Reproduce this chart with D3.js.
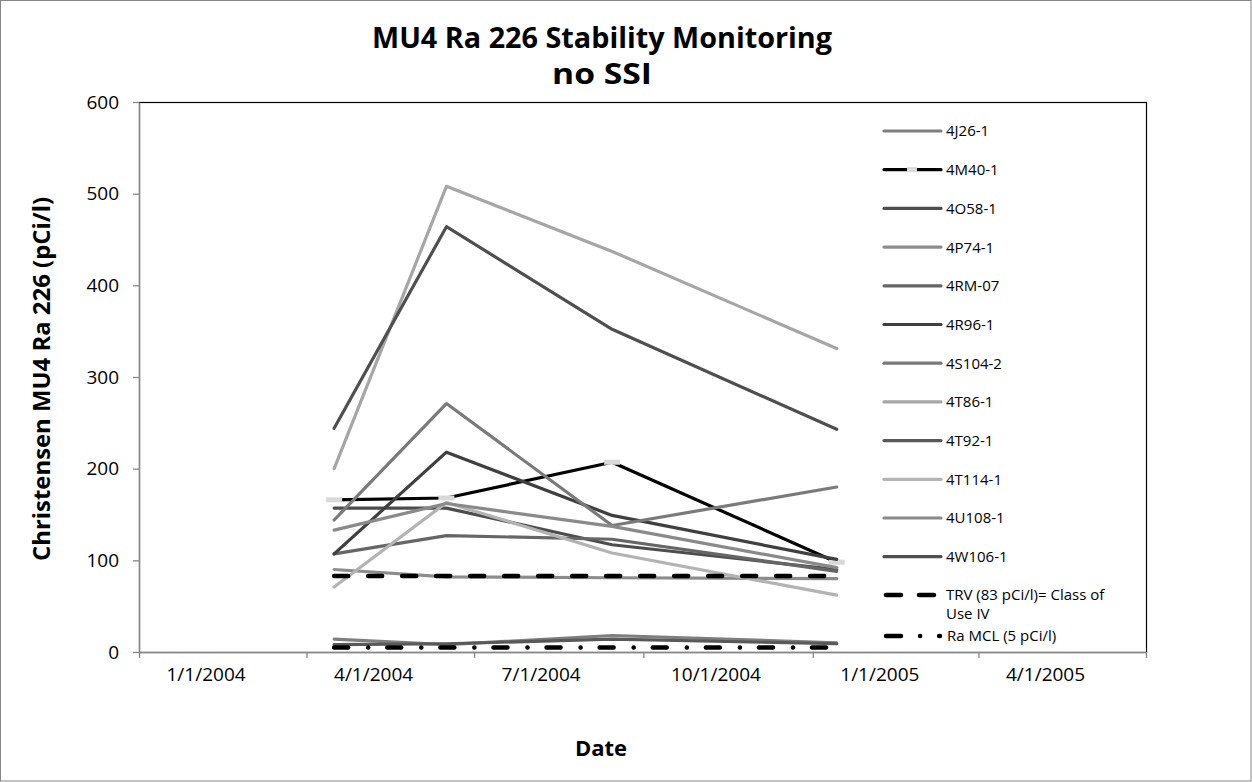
<!DOCTYPE html>
<html>
<head>
<meta charset="utf-8">
<script src="https://cdn.jsdelivr.net/npm/d3@7"></script>
<style>
  body { margin: 0; background: #fff; }
  text { font-family: "Open Sans", sans-serif; fill: #000; }
</style>
</head>
<body>
<div id="chart"></div>
<script>
// sampling dates
const dates = ["2004-04-16", "2004-06-16", "2004-09-14", "2005-01-14"];

// well names, in legend order
const wells = ["4J26-1", "4M40-1", "4O58-1", "4P74-1", "4RM-07", "4R96-1",
  "4S104-2", "4T86-1", "4T92-1", "4T114-1", "4U108-1", "4W106-1"];

// Ra 226 (pCi/l) per well, one value per date
const v4J26 = [14, 8, 18, 10];
const v4M40 = [166, 168, 207, 98];
const v4O58 = [157, 157, 117, 90];
const v4P74 = [90, 82, 81, 80];
const v4RM07 = [107, 127, 123, 88];
const v4R96 = [107, 218, 149, 101];
const v4S104 = [144, 271, 138, 180];
const v4T86 = [200, 508, 437, 331];
const v4T92 = [8, 9, 14, 9];
const v4T114 = [71, 163, 108, 62];
const v4U108 = [133, 162, 137, 92];
const v4W106 = [244, 464, 352, 243];

// reference levels
const trvValue = [83, 83, 83, 83];
const mclValue = [5, 5, 5, 5];

const yTicks = [0, 100, 200, 300, 400, 500, 600];

const colors = ["#7f7f7f", "#000000", "#4d4d4d", "#8c8c8c", "#666666", "#3f3f3f",
  "#7a7a7a", "#a6a6a6", "#595959", "#b3b3b3", "#8a8a8a", "#4f4f4f"];

const values = [v4J26, v4M40, v4O58, v4P74, v4RM07, v4R96,
  v4S104, v4T86, v4T92, v4T114, v4U108, v4W106];

const parse = d3.timeParse("%Y-%m-%d");
const series = wells.map((name, i) => ({
  name: name,
  color: colors[i],
  points: dates.map((d, j) => ({ date: parse(d), value: values[i][j] }))
}));

const W = 1252, H = 782;
const plot = { left: 139, right: 1146, top: 102, bottom: 652 };

const svg = d3.select("#chart").append("svg")
  .attr("width", W).attr("height", H);

// outer chart frame
svg.append("rect")
  .attr("x", 0.5).attr("y", 0.5)
  .attr("width", W - 1.5).attr("height", H - 1.5)
  .attr("fill", "#fff").attr("stroke", "#868686");

const x = d3.scaleTime()
  .domain([parse("2004-01-01"), parse("2005-07-01")])
  .range([plot.left, plot.right]);

const y = d3.scaleLinear()
  .domain([0, 600])
  .range([plot.bottom, plot.top]);

// plot area border
svg.append("rect")
  .attr("x", plot.left + 0.5).attr("y", plot.top + 0.5)
  .attr("width", plot.right - plot.left).attr("height", plot.bottom - plot.top)
  .attr("fill", "none").attr("stroke", "#000").attr("stroke-width", 1.2);

// axes
const fmt = d3.timeFormat("%-m/%-d/%Y");
const xAxis = svg.append("g")
  .attr("transform", `translate(0,${plot.bottom})`)
  .call(d3.axisBottom(x)
    .ticks(d3.timeMonth.every(3))
    .tickSize(6)
    .tickSizeOuter(0)
    .tickFormat(d => d < parse("2005-06-01") ? fmt(d) : ""));
xAxis.selectAll("text")
  .attr("text-anchor", "start")
  .attr("x", 27)
  .attr("y", 16)
  .attr("font-size", 19)
  .attr("font-family", "Open Sans");

const yAxis = svg.append("g")
  .attr("transform", `translate(${plot.left},0)`)
  .call(d3.axisLeft(y).tickValues(yTicks).tickSize(6).tickSizeOuter(0).tickPadding(14));
yAxis.selectAll("text")
  .attr("font-size", 19)
  .attr("font-family", "Open Sans");

svg.selectAll(".domain, .tick line")
  .attr("stroke", "#868686")
  .attr("stroke-width", 1.3);

// lines
const line = d3.line()
  .x(d => x(d.date))
  .y(d => y(d.value));

const g = svg.append("g");

series.forEach(s => {
  g.append("path")
    .datum(s.points)
    .attr("d", line)
    .attr("fill", "none")
    .attr("stroke", s.color)
    .attr("stroke-width", 3.2)
    .attr("stroke-linejoin", "round")
    .attr("stroke-linecap", "round");
  if (s.name === "4M40-1") {
    g.selectAll(".m40")
      .data(s.points)
      .enter().append("rect")
      .attr("x", d => x(d.date) - 8)
      .attr("y", d => y(d.value) - 2.5)
      .attr("width", 16).attr("height", 5)
      .attr("fill", "#d9d9d9");
  }
});

const trvDash = "14,20";
const mclDash = "14,20,0.1,19";

g.append("path")
  .datum(dates.map((d, j) => ({ date: parse(d), value: trvValue[j] })))
  .attr("d", line)
  .attr("fill", "none")
  .attr("stroke", "#000")
  .attr("stroke-width", 4.5)
  .attr("stroke-linecap", "round")
  .attr("stroke-dasharray", trvDash);

g.append("path")
  .datum(dates.map((d, j) => ({ date: parse(d), value: mclValue[j] })))
  .attr("d", line)
  .attr("fill", "none")
  .attr("stroke", "#000")
  .attr("stroke-width", 4.5)
  .attr("stroke-linecap", "round")
  .attr("stroke-dasharray", mclDash);

// legend
const legend = svg.append("g");
const lx0 = 884, lx1 = 941, tx = 946;
const fs = 15;

series.forEach((s, i) => {
  const ly = 131 + i * 38.7;
  legend.append("line")
    .attr("x1", lx0).attr("x2", lx1)
    .attr("y1", ly).attr("y2", ly)
    .attr("stroke", s.color)
    .attr("stroke-width", 3.2)
    .attr("stroke-linecap", "round");
  if (s.name === "4M40-1") {
    legend.append("rect")
      .attr("x", 907).attr("y", ly - 2.5)
      .attr("width", 10).attr("height", 5)
      .attr("fill", "#d9d9d9");
  }
  legend.append("text")
    .attr("x", tx).attr("y", ly)
    .attr("dy", "0.36em")
    .attr("font-size", fs)
    .text(s.name);
});

const trvY = 595, mclY = 636;
legend.append("line")
  .attr("x1", lx0 + 2).attr("x2", lx0 + 56)
  .attr("y1", trvY).attr("y2", trvY)
  .attr("stroke", "#000").attr("stroke-width", 4.5)
  .attr("stroke-linecap", "round")
  .attr("stroke-dasharray", "15,18");
legend.append("text")
  .attr("x", tx).attr("y", trvY).attr("dy", "0.36em")
  .attr("font-size", fs)
  .text("TRV (83 pCi/l)= Class of");
legend.append("text")
  .attr("x", tx).attr("y", trvY + 19).attr("dy", "0.36em")
  .attr("font-size", fs)
  .text("Use IV");

legend.append("line")
  .attr("x1", lx0 + 2).attr("x2", lx0 + 56)
  .attr("y1", mclY).attr("y2", mclY)
  .attr("stroke", "#000").attr("stroke-width", 4.5)
  .attr("stroke-linecap", "round")
  .attr("stroke-dasharray", "15,19,0.1,19");
legend.append("text")
  .attr("x", tx + 1).attr("y", mclY).attr("dy", "0.36em")
  .attr("font-size", fs)
  .text("Ra MCL (5 pCi/l)");

// titles
svg.append("text")
  .attr("x", 602).attr("y", 48)
  .attr("text-anchor", "middle")
  .attr("font-size", 29).attr("font-weight", "bold")
  .attr("textLength", 460).attr("lengthAdjust", "spacingAndGlyphs")
  .text("MU4 Ra 226 Stability  Monitoring");
svg.append("text")
  .attr("x", 602).attr("y", 84)
  .attr("text-anchor", "middle")
  .attr("font-size", 29).attr("font-weight", "bold")
  .attr("textLength", 100).attr("lengthAdjust", "spacingAndGlyphs")
  .text("no SSI");

svg.append("text")
  .attr("transform", "translate(50,379) rotate(-90)")
  .attr("text-anchor", "middle")
  .attr("font-size", 23).attr("font-weight", "bold")
  .attr("textLength", 364).attr("lengthAdjust", "spacingAndGlyphs")
  .text("Christensen MU4 Ra 226 (pCi/l)");

svg.append("text")
  .attr("x", 601).attr("y", 756)
  .attr("text-anchor", "middle")
  .attr("font-size", 22).attr("font-weight", "bold")
  .text("Date");
</script>
</body>
</html>
